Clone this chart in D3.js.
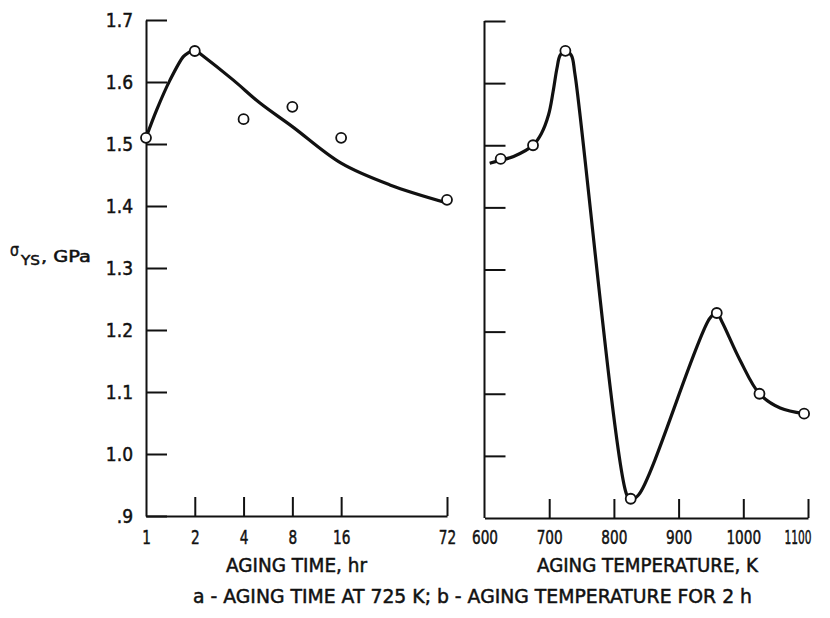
<!DOCTYPE html>
<html>
<head>
<meta charset="utf-8">
<script src="https://cdn.jsdelivr.net/npm/d3@7"></script>
<style>
  body { margin: 0; background: #fff; }
  text { font-family: "DejaVu Sans", sans-serif; fill: #111; stroke: #111; stroke-width: 0.5px; }
</style>
</head>
<body>
<script>
// panel a: aging time at 725 K
const timeTicks = [1, 2, 4, 8, 16, 72]
const timePoints = [[1, 1.51], [2, 1.65], [4, 1.54], [8, 1.56], [16, 1.51], [72, 1.41]]
// traced fit curve
const timeCurve = [[1, 1.51], [1.164, 1.555], [1.406, 1.603], [1.7, 1.641], [1.82, 1.647], [2, 1.652],
  [2.15, 1.646], [3.46, 1.603], [5.05, 1.566], [8, 1.528], [16, 1.469], [32, 1.434], [72, 1.405]]

// panel b: aging temperature for 2 h
const tempTicks = [600, 700, 800, 900, 1000, 1100]
const tempPoints = [[625, 1.478], [675, 1.50], [725, 1.652], [826, 0.931], [959, 1.23], [1025, 1.10], [1094, 1.068]]
// traced fit curve
const tempCurve = [[608, 1.471], [625, 1.476], [645, 1.482], [675, 1.50], [688, 1.519], [699, 1.549],
  [706, 1.586], [712, 1.624], [717, 1.645], [725, 1.652], [734, 1.645], [740, 1.613],
  [820, 0.937], [826, 0.93], [838, 0.937], [948, 1.221], [959, 1.23], [967, 1.216],
  [995, 1.154], [1025, 1.10], [1057, 1.077], [1094, 1.068]]

const yTicks = [0.9, 1.0, 1.1, 1.2, 1.3, 1.4, 1.5, 1.6, 1.7]
const yTickLabels = [".9", "1.0", "1.1", "1.2", "1.3", "1.4", "1.5", "1.6", "1.7"]

const width = 830
const height = 618

const svg = d3.select("body").append("svg")
    .attr("width", width)
    .attr("height", height)

const xTime = d3.scaleLog().base(2).domain([1, 72]).range([146, 447])
const xTemp = d3.scaleLinear().domain([600, 1100]).range([484.5, 808])
const yA = d3.scaleLinear().domain([0.9, 1.7]).range([516, 20])
const yB = d3.scaleLinear().domain([0.9, 1.7]).range([518, 21])

// squeeze tick labels horizontally, the original lettering is narrow
function squeeze (sel, k) {
  sel.attr("transform", `scale(${k},1)`)
     .attr("x", function () { return +d3.select(this).attr("x") / k })
}

function styleAxis (g) {
  g.select(".domain").attr("stroke", "#111").attr("stroke-width", 2)
  g.selectAll(".tick line").attr("stroke", "#111").attr("stroke-width", 2)
  g.selectAll(".tick text").style("font-size", "19px").attr("fill", "#111")
}

// left panel axes
svg.append("g")
    .attr("transform", `translate(${xTime(1)},0)`)
    .call(d3.axisLeft(yA).tickValues(yTicks)
      .tickFormat((d, i) => yTickLabels[i])
      .tickSizeInner(-21).tickSizeOuter(0).tickPadding(13))
    .call(styleAxis)
    .call(g => squeeze(g.selectAll(".tick text"), 0.9))

svg.append("g")
    .attr("transform", `translate(0,${yA(0.9)})`)
    .call(d3.axisBottom(xTime).tickValues(timeTicks)
      .tickFormat(d3.format("d"))
      .tickSizeInner(-19).tickSizeOuter(0).tickPadding(15))
    .call(styleAxis)
    .call(g => g.select(".tick line").remove())
    .call(g => squeeze(g.selectAll(".tick text"), 0.72))

// right panel axes
svg.append("g")
    .attr("transform", `translate(${xTemp(600)},0)`)
    .call(d3.axisLeft(yB).tickValues(yTicks.slice(1))
      .tickFormat("")
      .tickSizeInner(-21).tickSizeOuter(0))
    .call(styleAxis)
    .call(g => g.select(".domain").attr("d", `M0,${yB(1.7)}V${yB(0.9)}`))

svg.append("g")
    .attr("transform", `translate(0,${yB(0.9)})`)
    .call(d3.axisBottom(xTemp).tickValues(tempTicks)
      .tickFormat(d3.format("d"))
      .tickSizeInner(-19).tickSizeOuter(0).tickPadding(13))
    .call(styleAxis)
    .call(g => g.select(".tick line").remove())
    // the last label sits left of its tick so it stays inside the frame
    .call(g => g.selectAll(".tick text").filter(d => d === 1100)
      .attr("text-anchor", "end").attr("x", 3))
    .call(g => squeeze(g.selectAll(".tick text").filter(d => d !== 1100), 0.72))
    .call(g => squeeze(g.selectAll(".tick text").filter(d => d === 1100), 0.56))

// curves
const lineA = d3.line().x(d => xTime(d[0])).y(d => yA(d[1])).curve(d3.curveCatmullRom.alpha(0.5))
const lineB = d3.line().x(d => xTemp(d[0])).y(d => yB(d[1])).curve(d3.curveCatmullRom.alpha(0.5))

svg.append("path")
    .attr("d", lineA(timeCurve))
    .attr("fill", "none").attr("stroke", "#111").attr("stroke-width", 3.2)
    .attr("stroke-linejoin", "round")

svg.append("path")
    .attr("d", lineB(tempCurve))
    .attr("fill", "none").attr("stroke", "#111").attr("stroke-width", 3.2)
    .attr("stroke-linejoin", "round")

// open circle symbols
svg.append("g").selectAll("circle")
    .data(timePoints)
    .join("circle")
      .attr("cx", d => xTime(d[0]))
      .attr("cy", d => yA(d[1]))
      .attr("r", 5)
      .attr("fill", "#fff").attr("stroke", "#111").attr("stroke-width", 1.8)

svg.append("g").selectAll("circle")
    .data(tempPoints)
    .join("circle")
      .attr("cx", d => xTemp(d[0]))
      .attr("cy", d => yB(d[1]))
      .attr("r", 5)
      .attr("fill", "#fff").attr("stroke", "#111").attr("stroke-width", 1.8)

// y title
svg.append("text")
    .attr("x", 10).attr("y", 256)
    .style("font-size", "17px")
    .attr("textLength", 9).attr("lengthAdjust", "spacingAndGlyphs")
    .text("σ")
svg.append("text")
    .attr("x", 21).attr("y", 265)
    .style("font-size", "14px")
    .attr("textLength", 19).attr("lengthAdjust", "spacingAndGlyphs")
    .text("YS")
svg.append("text")
    .attr("x", 41).attr("y", 262)
    .style("font-size", "15px")
    .attr("textLength", 50).attr("lengthAdjust", "spacingAndGlyphs")
    .text(", GPa")

// axis titles and caption
svg.append("text")
    .attr("x", 226).attr("y", 572)
    .style("font-size", "19px")
    .attr("textLength", 141).attr("lengthAdjust", "spacingAndGlyphs")
    .text("AGING TIME, hr")

svg.append("text")
    .attr("x", 537).attr("y", 572)
    .style("font-size", "19px")
    .attr("textLength", 221).attr("lengthAdjust", "spacingAndGlyphs")
    .text("AGING TEMPERATURE, K")

svg.append("text")
    .attr("x", 193).attr("y", 603)
    .style("font-size", "19px")
    .attr("textLength", 559).attr("lengthAdjust", "spacingAndGlyphs")
    .text("a - AGING TIME AT 725 K;  b - AGING TEMPERATURE FOR 2 h")
</script>
</body>
</html>
